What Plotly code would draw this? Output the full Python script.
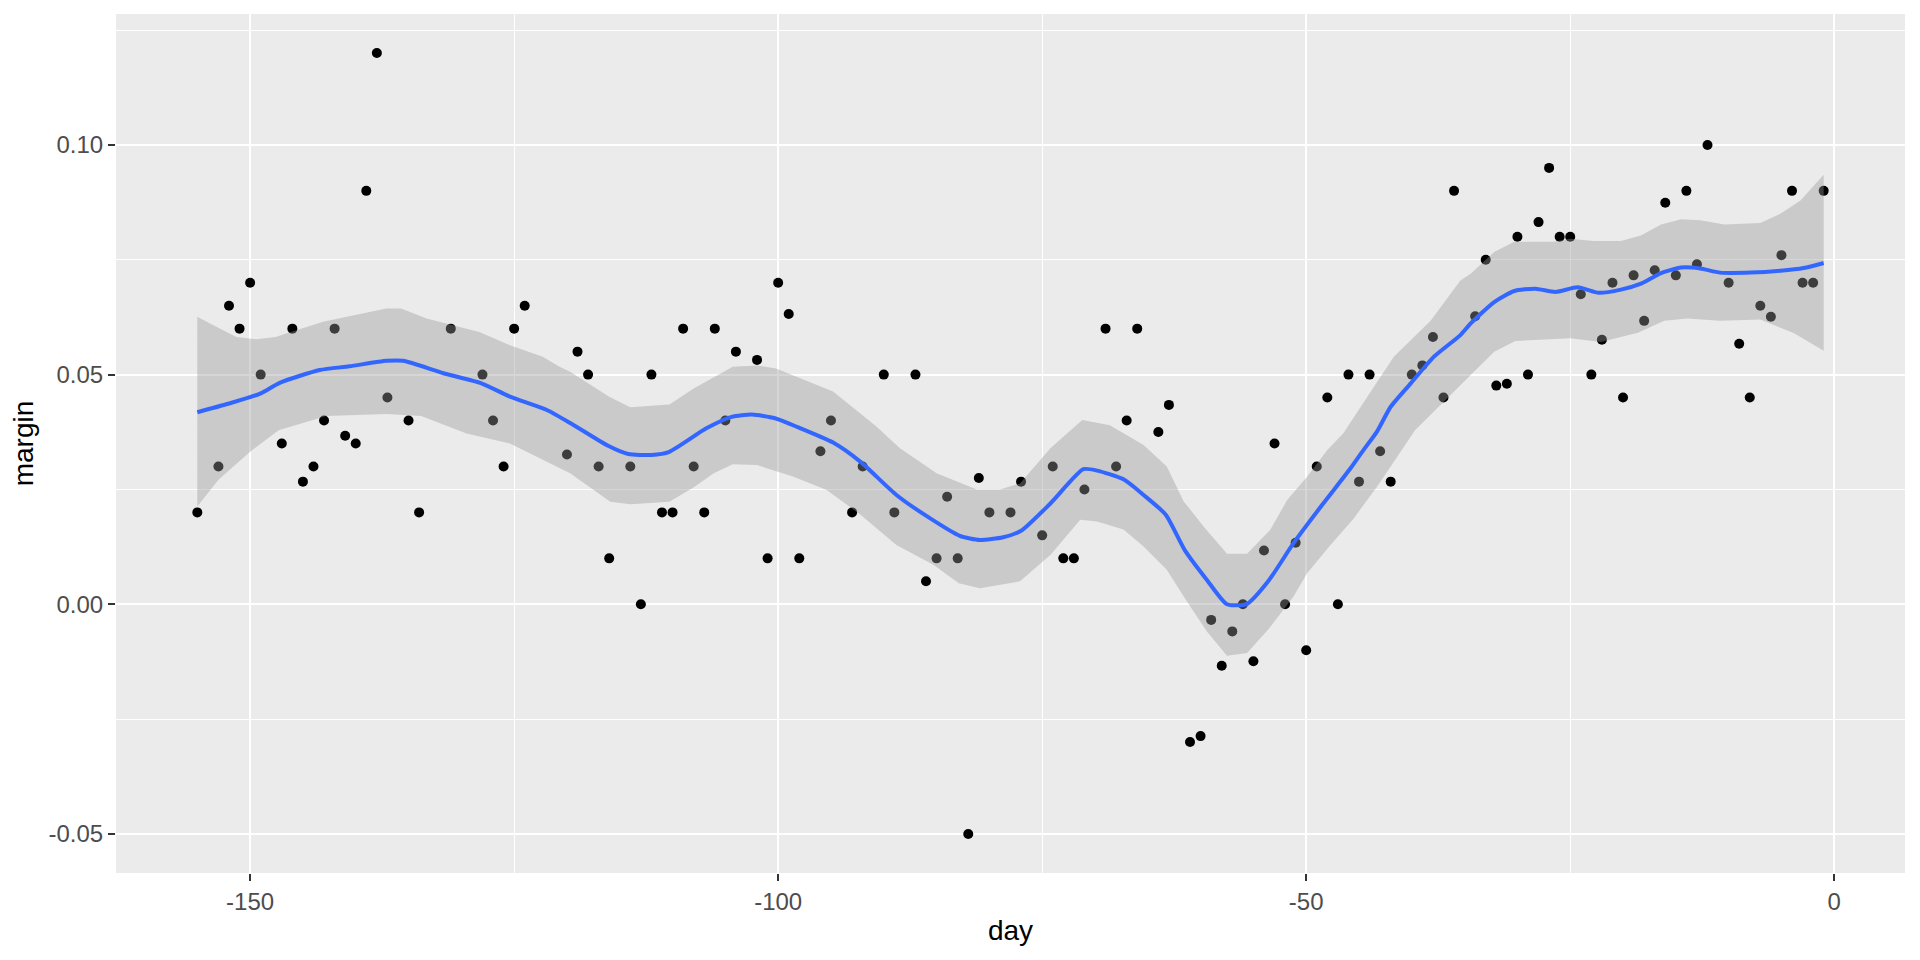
import plotly.graph_objects as go

# ---- data: scatter points (day, margin) ----
days = [-155, -153, -152, -151, -150, -149, -147, -146, -145, -144, -143, -142, -141, -140,
        -139, -138, -137, -135, -134, -131, -128, -127, -126, -125, -124, -120, -119, -118,
        -117, -116, -114, -113, -112, -111, -110, -109, -108, -107, -106, -105, -104, -102,
        -101, -100, -99, -98, -96, -95, -93, -92, -90, -89, -87, -86, -85, -84, -83, -82,
        -81, -80, -78, -77, -75, -74, -73, -72, -71, -69, -68, -67, -66, -64, -63, -61,
        -60, -59, -58, -57, -56, -55, -54, -53, -52, -51, -50, -49, -48, -47, -46, -45,
        -44, -43, -42, -40, -39, -38, -37, -36, -34, -33, -32, -31, -30, -29, -28, -27,
        -26, -25, -24, -23, -22, -21, -20, -19, -18, -17, -16, -15, -14, -13, -12, -10,
        -9, -8, -7, -6, -5, -4, -3, -2, -1]
margin = [0.02, 0.03, 0.065, 0.06, 0.07, 0.05, 0.035, 0.06, 0.0267, 0.03, 0.04, 0.06, 0.0367, 0.035,
          0.09, 0.12, 0.045, 0.04, 0.02, 0.06, 0.05, 0.04, 0.03, 0.06, 0.065, 0.0326, 0.055, 0.05,
          0.03, 0.01, 0.03, 0.0, 0.05, 0.02, 0.02, 0.06, 0.03, 0.02, 0.06, 0.04, 0.055, 0.0532,
          0.01, 0.07, 0.0632, 0.01, 0.0333, 0.04, 0.02, 0.03, 0.05, 0.02, 0.05, 0.005, 0.01, 0.0234, 0.01, -0.05,
          0.0275, 0.02, 0.02, 0.0267, 0.015, 0.03, 0.01, 0.01, 0.025, 0.06, 0.03, 0.04, 0.06, 0.0375, 0.0434, -0.03,
          -0.0287, -0.0034, -0.0134, -0.0059, 0.0, -0.0124, 0.0117, 0.035, 0.0, 0.0134, -0.01, 0.03, 0.045, 0.0, 0.05, 0.0267,
          0.05, 0.0333, 0.0267, 0.05, 0.052, 0.0582, 0.045, 0.09, 0.0627, 0.075, 0.0476, 0.048, 0.08, 0.05, 0.0832, 0.095,
          0.08, 0.08, 0.0675, 0.05, 0.0576, 0.07, 0.045, 0.0716, 0.0617, 0.0727, 0.0874, 0.0716, 0.09, 0.074, 0.10, 0.07,
          0.0567, 0.045, 0.065, 0.0626, 0.076, 0.09, 0.07, 0.07, 0.09]

# ---- smoother ----
fit_x = [-155, -152, -149, -147.2, -143.4, -140.6, -137.1, -135.5, -131.7, -128.1, -125.4, -121.9,
         -119.5, -116.1, -114.2, -112, -110.3, -106.8, -104.4, -102.5, -100.3, -98.2, -94.8, -92.2,
         -88.8, -85.6, -82.8, -80.9, -78.7, -77.0, -74.2, -71.1, -69.8, -67.3, -65.4, -63.3, -61.5,
         -59.4, -57.5, -55.6, -53.6, -51.2, -48.5, -45.8, -44.6, -43.3, -42.0, -40.1, -37.9, -35.4,
         -34.4, -32.2, -30.3, -28.3, -26.4, -24.3, -22.3, -20.2, -18.3, -16.4, -14.5, -12.7, -10.8,
         -7.9, -5.1, -2.9, -1]
fit_y = [0.0418, 0.0437, 0.0459, 0.0482, 0.0510, 0.0518, 0.0530, 0.0530, 0.0503, 0.0481, 0.0452, 0.0423,
         0.0392, 0.0345, 0.0327, 0.0325, 0.0332, 0.0383, 0.0408, 0.0413, 0.0405, 0.0386, 0.0352, 0.0310,
         0.0238, 0.0187, 0.0149, 0.0140, 0.0146, 0.0160, 0.0220, 0.0294, 0.0291, 0.0272, 0.0238, 0.0195, 0.0118,
         0.0053, 0.0000, 0.0001, 0.0050, 0.0133, 0.0216, 0.0296, 0.0335, 0.0376, 0.0430, 0.0481, 0.0539, 0.0586,
         0.0612, 0.0658, 0.0682, 0.0687, 0.0680, 0.0690, 0.0678, 0.0685, 0.0698, 0.0721, 0.0733, 0.0731, 0.0722,
         0.0722, 0.0726, 0.0732, 0.0743]

upper_x = [-155, -153.8, -151.3, -149.4, -147.6, -143.1, -137.1, -135.7, -133.3, -128.3, -125.4, -122.3,
           -120.7, -119.7, -116, -114, -110.3, -108, -104.3, -102, -100.2, -94.8, -90.7, -88.5, -85,
           -81.2, -79, -77.1, -74.2, -72.3, -71.2, -68.6, -65.4, -63.2, -61.6, -59.7, -57.5, -55.6,
           -53.4, -51.8, -49.9, -48, -46.5, -43.6, -41.7, -38.2, -35.4, -34.4, -32.2, -30.3, -26.6,
           -25, -22.8, -20.2, -18.3, -16.4, -14.5, -12.7, -10.4, -7.0, -5.1, -3.2, -1]
upper_y = [0.0626, 0.0611, 0.0582, 0.0577, 0.0582, 0.0615, 0.0644, 0.0644, 0.0622, 0.0593, 0.0564, 0.0539,
           0.0517, 0.0506, 0.0452, 0.0429, 0.0435, 0.0470, 0.0517, 0.0520, 0.0513, 0.0463, 0.0387, 0.0340, 0.0285,
           0.0250, 0.0250, 0.0263, 0.0340, 0.0379, 0.0401, 0.0390, 0.0347, 0.0300, 0.0224, 0.0169, 0.0110, 0.0110,
           0.0162, 0.0227, 0.0278, 0.0336, 0.0372, 0.0473, 0.0539, 0.0618, 0.0705, 0.0720, 0.0767, 0.0789, 0.0789,
           0.0796, 0.0791, 0.0791, 0.0803, 0.0827, 0.0838, 0.0836, 0.0827, 0.0830, 0.0850, 0.0879, 0.0935]

lower_x = [-155, -153, -150, -147.3, -142.8, -137.1, -133.8, -129.5, -125.4, -119.7, -115.9, -114,
           -110.3, -108.1, -106.1, -104.3, -102, -98.6, -95.4, -92.2, -88.8, -85.3, -82.9, -80.9,
           -77.1, -74.2, -71.4, -69.8, -67.3, -65.4, -63.2, -61.6, -59.4, -57.5, -55.6, -53.6, -51.2,
           -49.9, -47.7, -45.5, -43.3, -41.7, -39.7, -35.4, -32.2, -30.2, -25, -22.1, -18.6, -16.1,
           -13.9, -10.8, -7.0, -3.8, -1]
lower_y = [0.0213, 0.0271, 0.0332, 0.0379, 0.0410, 0.0414, 0.0410, 0.0372, 0.0350, 0.0285, 0.0223, 0.0218,
           0.0223, 0.0253, 0.0285, 0.0305, 0.0303, 0.0278, 0.0249, 0.0195, 0.0129, 0.0086, 0.0046, 0.0035,
           0.0050, 0.0108, 0.0184, 0.0180, 0.0163, 0.0126, 0.0075, 0.0017, -0.0059, -0.0112, -0.0106, -0.0055, 0.0017,
           0.0068, 0.0129, 0.0187, 0.0256, 0.0310, 0.0379, 0.0477, 0.0550, 0.0573, 0.0579, 0.0571, 0.0591, 0.0617,
           0.0622, 0.0617, 0.0620, 0.0590, 0.0552]

# ---- ticks ----
x_tickvals = [-150, -100, -50, 0]
x_ticktext = ["-150", "-100", "-50", "0"]
x_minor = [-125, -75, -25]
y_tickvals = [-0.05, 0.0, 0.05, 0.10]
y_ticktext = ["-0.05", "0.00", "0.05", "0.10"]
y_minor = [-0.025, 0.025, 0.075, 0.125]

fig = go.Figure()
fig.add_trace(go.Scatter(x=days, y=margin, mode="markers",
                         marker=dict(color="black", size=10, line=dict(width=0)),
                         hoverinfo="x+y", showlegend=False))
fig.add_trace(go.Scatter(x=upper_x + lower_x[::-1], y=upper_y + lower_y[::-1],
                         mode="lines", fill="toself", fillcolor="rgba(153,153,153,0.4)",
                         line=dict(width=0, color="rgba(0,0,0,0)"), hoverinfo="skip",
                         showlegend=False))
fig.add_trace(go.Scatter(x=fit_x, y=fit_y, mode="lines",
                         line=dict(color="#3366FF", width=4, shape="spline", smoothing=0.6),
                         showlegend=False))

font_family = "Liberation Sans, Arial, sans-serif"
# The page body adds an 8px margin, so the figure is sized/offset to compensate.
fig.update_layout(
    width=1904, height=944,
    paper_bgcolor="white", plot_bgcolor="#EBEBEB",
    margin=dict(l=108, r=7, t=6, b=79, pad=0, autoexpand=False),
    font=dict(family=font_family, color="#4D4D4D", size=24),
    showlegend=False,
)
fig.update_xaxes(
    range=[-162.7, 6.7], tickvals=x_tickvals, ticktext=x_ticktext, automargin=False,
    showgrid=True, gridcolor="white", gridwidth=2, zeroline=False, showline=False,
    ticks="outside", ticklen=7, tickwidth=2, tickcolor="#333333",
    tickfont=dict(size=24, color="#4D4D4D", family=font_family),
    minor=dict(tickvals=x_minor, showgrid=True, gridcolor="white", gridwidth=1, ticks=""),
    title=dict(text="day", font=dict(size=28, color="black", family=font_family), standoff=6),
)
fig.update_yaxes(
    range=[-0.0585, 0.1285], tickvals=y_tickvals, ticktext=y_ticktext, automargin=False,
    showgrid=True, gridcolor="white", gridwidth=2, zeroline=False, showline=False,
    ticks="outside", ticklen=7, tickwidth=2, tickcolor="#333333",
    tickfont=dict(size=24, color="#4D4D4D", family=font_family),
    minor=dict(tickvals=y_minor, showgrid=True, gridcolor="white", gridwidth=1, ticks=""),
    title=dict(text="margin", font=dict(size=28, color="black", family=font_family), standoff=10),
)

fig.write_html("out.html")
